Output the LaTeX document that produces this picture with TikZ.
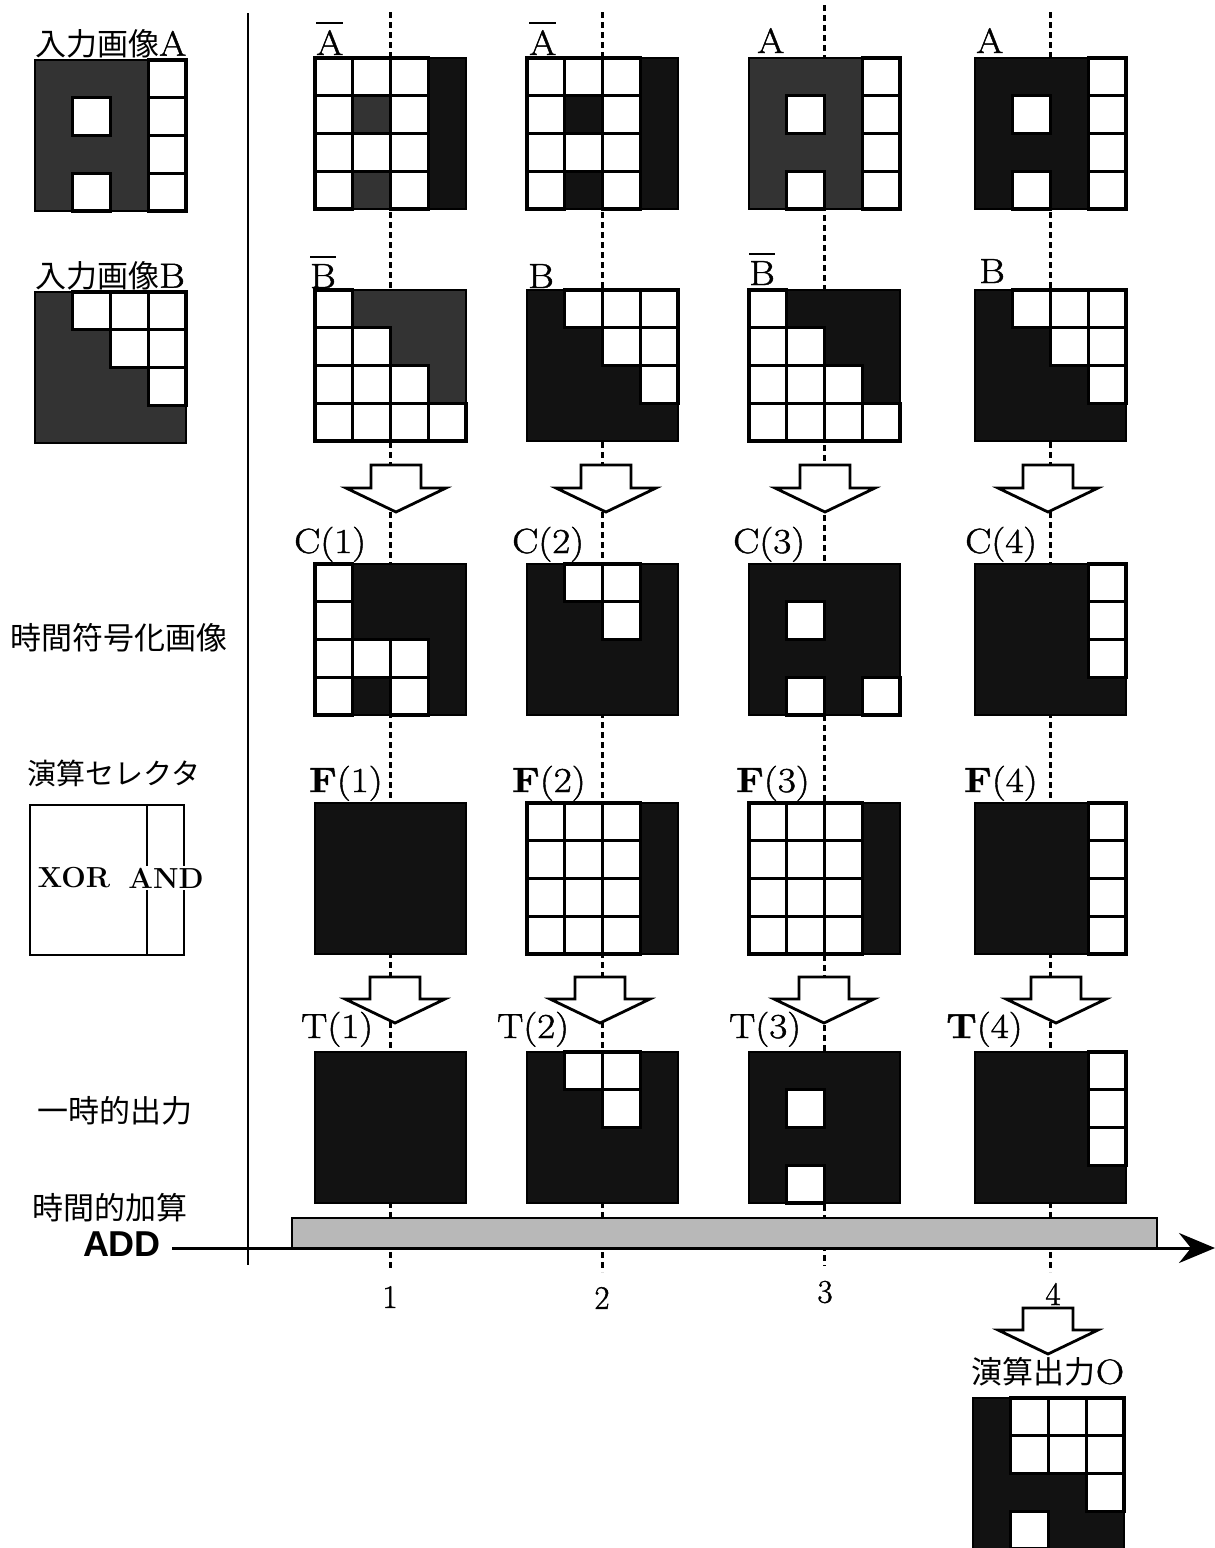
\documentclass[tikz,border=0pt]{standalone}
\usepackage{fontspec}
\usepackage{graphicx}
\newfontfamily\jp{Noto Sans CJK JP}
\newfontfamily\adfont{Liberation Sans}
\newfontfamily\lmr[FakeBold=1.2]{Latin Modern Roman}
\usetikzlibrary{arrows.meta}
\newcommand\cellsz{37.75}
\newcommand\wl[1]{\scalebox{1.12}[1]{#1}}
\newcommand\ovl[1]{\vbox{\hrule height 2pt\kern 6pt\hbox{#1}}}
\newcommand\mkgrid[4]{%
  \coordinate (#1) at (#2,#3);
  \begin{scope}[shift={(#2,#3)}]
    \foreach \v [count=\i from 0] in {#4} {
      \pgfmathtruncatemacro\rr{div(\i,4)}
      \pgfmathtruncatemacro\cc{mod(\i,4)}
      \ifnum\v=1 \fill[dk] ({\cc*\cellsz-0.4},{\rr*\cellsz-0.4}) rectangle ++({\cellsz+0.8},{\cellsz+0.8});\fi
      \ifnum\v=2 \fill[gy] ({\cc*\cellsz-0.4},{\rr*\cellsz-0.4}) rectangle ++({\cellsz+0.8},{\cellsz+0.8});\fi
    }
    \foreach \v [count=\i from 0] in {#4} {
      \pgfmathtruncatemacro\rr{div(\i,4)}
      \pgfmathtruncatemacro\cc{mod(\i,4)}
      \ifnum\v=0 \draw[cellline] ({\cc*\cellsz},{\rr*\cellsz}) rectangle ++(\cellsz,\cellsz);\fi
    }
    \draw[gridframe] (0,0) rectangle ({4*\cellsz},{4*\cellsz});
  \end{scope}}
\newcommand\blockarrow[4]{%
  \draw[barrow] ({#1-25},#2) -- ({#1+25},#2) -- ({#1+25},#3) -- ({#1+50},#3) -- (#1,#4) -- ({#1-50},#3) -- ({#1-25},#3) -- cycle;}
\begin{document}
\begin{tikzpicture}[x=1pt,y=-1pt,
  dk/.style={fill=black!93},
  gy/.style={fill=black!80},
  cellline/.style={draw=black,line width=3.2pt,fill=white},
  gridframe/.style={draw=black,line width=1.6pt},
  barrow/.style={draw=black,line width=2.8pt,fill=white,line join=miter},
  guide/.style={draw=black,line width=3pt,dash pattern=on 6pt off 4pt},
  lbl/.style={inner sep=0pt,anchor=base west,font=\lmr\fontsize{35}{40}\selectfont},
  tick/.style={inner sep=0pt,font=\lmr\fontsize{33}{38}\selectfont},
  jplbl/.style={inner sep=0pt,font=\jp\fontsize{31}{36}\selectfont}]
\useasboundingbox (0,0) rectangle (1215,1548);
\fill[white] (0,0) rectangle (1215,1548);

% guide lines (drawn first, under everything)
\coordinate (g1t) at (390,12);  \coordinate (g1b) at (390,1268);
\coordinate (g2t) at (602,12);  \coordinate (g2b) at (602,1272);
\coordinate (g3t) at (824,5);   \coordinate (g3b) at (824,1266);
\coordinate (g4t) at (1050,12); \coordinate (g4b) at (1050,1272);
\draw[guide] (g1t) -- (g1b);
\draw[guide] (g2t) -- (g2b);
\draw[guide] (g3t) -- (g3b);
\draw[guide] (g4t) -- (g4b);

% separator
\coordinate (st) at (248,13); \coordinate (sb) at (248,1265);
\draw[line width=2.2pt] (st) -- (sb);

% left column
\node[jplbl,anchor=west] (inA) at (35,44) {入力画像{\lmr\fontsize{35}{40}\selectfont\wl{A}}};
\mkgrid{gA}{35}{60}{2,2,2,0, 2,0,2,0, 2,2,2,0, 2,0,2,0}
\node[jplbl,anchor=west] (inB) at (35,276) {入力画像{\lmr\fontsize{35}{40}\selectfont\wl{B}}};
\mkgrid{gB}{35}{292}{2,0,0,0, 2,2,0,0, 2,2,2,0, 2,2,2,2}
\node[jplbl] (enc) at (119,638) {時間符号化画像};
\node[jplbl,font=\jp\fontsize{29}{34}\selectfont] (sel) at (114,773) {演算セレクタ};
\draw[line width=2.4pt] (30,805) rectangle (184,955);
\draw[line width=2.4pt] (147,805) -- (147,955);
\node[inner sep=0pt,font=\bfseries\fontsize{29}{32}\selectfont] (xor) at (74,878) {XOR};
\node[inner sep=1.5pt,fill=white,font=\bfseries\fontsize{29}{32}\selectfont] (and) at (166,878) {AND};
\node[jplbl] (tmp) at (115,1111) {一時的出力};
\node[jplbl] (tadd) at (110,1208) {時間的加算};
\node[inner sep=0pt,font=\adfont\bfseries\fontsize{36}{40}\selectfont] (add) at (122,1244) {ADD};

% row A
\node[lbl] (la1) at (316,55) {\wl{\ovl{A}}};
\node[lbl] (la2) at (529,55) {\wl{\ovl{A}}};
\node[lbl] (la3) at (757,53) {\wl{A}};
\node[lbl] (la4) at (976,53) {\wl{A}};
\mkgrid{a1}{315}{58}{0,0,0,1, 0,2,0,1, 0,0,0,1, 0,2,0,1}
\mkgrid{a2}{527}{58}{0,0,0,1, 0,1,0,1, 0,0,0,1, 0,1,0,1}
\mkgrid{a3}{749}{58}{2,2,2,0, 2,0,2,0, 2,2,2,0, 2,0,2,0}
\mkgrid{a4}{975}{58}{1,1,1,0, 1,0,1,0, 1,1,1,0, 1,0,1,0}

% row B
\node[lbl] (lb1) at (310,288) {\wl{\ovl{B}}};
\node[lbl] (lb2) at (528,288) {\wl{B}};
\node[lbl] (lb3) at (749,285) {\wl{\ovl{B}}};
\node[lbl] (lb4) at (979,283) {\wl{B}};
\mkgrid{b1}{315}{290}{0,2,2,2, 0,0,2,2, 0,0,0,2, 0,0,0,0}
\mkgrid{b2}{527}{290}{1,0,0,0, 1,1,0,0, 1,1,1,0, 1,1,1,1}
\mkgrid{b3}{749}{290}{0,1,1,1, 0,0,1,1, 0,0,0,1, 0,0,0,0}
\mkgrid{b4}{975}{290}{1,0,0,0, 1,1,0,0, 1,1,1,0, 1,1,1,1}

% arrows B -> C
\blockarrow{396}{465}{488}{512}
\blockarrow{606}{465}{488}{512}
\blockarrow{825}{465}{488}{512}
\blockarrow{1048}{465}{488}{512}

% row C
\node[lbl] (lc1) at (294,553) {\wl{C(1)}};
\node[lbl] (lc2) at (512,553) {\wl{C(2)}};
\node[lbl] (lc3) at (733,553) {\wl{C(3)}};
\node[lbl] (lc4) at (965,553) {\wl{C(4)}};
\mkgrid{c1}{315}{564}{0,1,1,1, 0,1,1,1, 0,0,0,1, 0,1,0,1}
\mkgrid{c2}{527}{564}{1,0,0,1, 1,1,0,1, 1,1,1,1, 1,1,1,1}
\mkgrid{c3}{749}{564}{1,1,1,1, 1,0,1,1, 1,1,1,1, 1,0,1,0}
\mkgrid{c4}{975}{564}{1,1,1,0, 1,1,1,0, 1,1,1,0, 1,1,1,1}

% row F
\node[lbl] (lf1) at (309,792) {\wl{\textbf{F}(1)}};
\node[lbl] (lf2) at (512,792) {\wl{\textbf{F}(2)}};
\node[lbl] (lf3) at (736,792) {\wl{\textbf{F}(3)}};
\node[lbl] (lf4) at (964,792) {\wl{\textbf{F}(4)}};
\mkgrid{f1}{315}{803}{1,1,1,1, 1,1,1,1, 1,1,1,1, 1,1,1,1}
\mkgrid{f2}{527}{803}{0,0,0,1, 0,0,0,1, 0,0,0,1, 0,0,0,1}
\mkgrid{f3}{749}{803}{0,0,0,1, 0,0,0,1, 0,0,0,1, 0,0,0,1}
\mkgrid{f4}{975}{803}{1,1,1,0, 1,1,1,0, 1,1,1,0, 1,1,1,0}

% arrows F -> T
\blockarrow{395}{977}{999}{1023}
\blockarrow{600}{977}{999}{1023}
\blockarrow{824}{977}{999}{1023}
\blockarrow{1056}{977}{999}{1023}

% row T
\node[lbl] (lt1) at (301,1038) {\wl{T(1)}};
\node[lbl] (lt2) at (497,1038) {\wl{T(2)}};
\node[lbl] (lt3) at (729,1038) {\wl{T(3)}};
\node[lbl] (lt4) at (946,1038) {\wl{\textbf{T}(4)}};
\mkgrid{t1}{315}{1052}{1,1,1,1, 1,1,1,1, 1,1,1,1, 1,1,1,1}
\mkgrid{t2}{527}{1052}{1,0,0,1, 1,1,0,1, 1,1,1,1, 1,1,1,1}
\mkgrid{t3}{749}{1052}{1,1,1,1, 1,0,1,1, 1,1,1,1, 1,0,1,1}
\mkgrid{t4}{975}{1052}{1,1,1,0, 1,1,1,0, 1,1,1,0, 1,1,1,1}

% time axis and ADD bar
\draw[line width=2.4pt,fill=black!28] (292,1248) rectangle (1157,1218);
\coordinate (axs) at (172,1248);
\coordinate (axe) at (1215,1248);
\draw[line width=3pt,-{Stealth[length=36pt,width=30pt,inset=12pt]}] (axs) -- (axe);

\node[tick] (n1) at (390,1297) {1};
\node[tick] (n2) at (602,1298) {2};
\node[tick] (n3) at (825,1292) {3};
\node[tick] (n4) at (1053,1294) {4};

% output
\blockarrow{1048}{1308}{1330}{1354}
\node[jplbl] (outl) at (1048,1372) {演算出力{\lmr\fontsize{35}{40}\selectfont\wl{O}}};
\mkgrid{out}{973}{1398}{1,0,0,0, 1,0,0,0, 1,1,1,0, 1,0,1,1}
\end{tikzpicture}
\end{document}
